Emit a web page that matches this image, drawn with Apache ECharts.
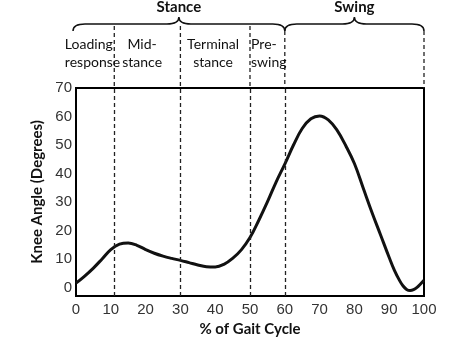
<!DOCTYPE html>
<html><head><meta charset="utf-8">
<script src="https://cdn.jsdelivr.net/npm/echarts@6/dist/echarts.min.js"></script>
<style>html,body{margin:0;padding:0;background:#fff}#c{width:474px;height:345px}</style>
</head><body><div id="c"></div>
<script>
// ---- data ----
const gaitPct = [0,2.5,5,7.5,10,12.5,15,17.5,20,22.5,25,27.5,30,32.5,35,37.5,40,42.5,45,47.5,50,52.5,55,57.5,60,62.5,65,67.5,70,72.5,75,77.5,80,82.5,85,87.5,90,91.5,93,94,95,96,97,98,99,100];
const kneeAngle = [1.5,4,6.8,10,13.3,15.2,15.6,14.8,13.3,12,11,10.2,9.5,8.7,7.9,7.3,7.2,8.1,10.2,13.2,17.5,23.5,30,37,43.3,50,55.8,59.2,60.2,58.8,55.2,49.8,43.5,35,26.5,18.5,10.5,6,2.4,0.5,-0.7,-1.1,-0.8,0,1.2,2.5];
const yTickLabels = [0,10,20,30,40,50,60,70];
const phaseBounds = [11,30,50,60,100];
const phaseNames = ['Loading\nresponse','Mid-\nstance','Terminal\nstance','Pre-\nswing'];
const phaseAnchors = [-3.2,19,39.4,50.3];
const periodNames = ['Stance','Swing'];
const periodStart = [0,60];
const periodEnd = [60,100];

const chart = echarts.init(document.getElementById('c'), null, {renderer:'canvas'});
const L = 76, R = 50;
const labelFont = '14px Lato';
const periodEnds = periodStart.concat(periodEnd);

chart.setOption({
  animation:false,
  backgroundColor:'#fff',
  grid:[
    {left:L, right:R, top:88, bottom:49, show:true, borderColor:'#000', borderWidth:2, backgroundColor:'transparent'},
    {left:L, right:R, top:0, height:88, show:false}
  ],
  xAxis:[
    {type:'value', gridIndex:0, min:0, max:100, interval:10,
     axisLine:{show:true, onZero:false, lineStyle:{color:'#000', width:2}},
     axisTick:{show:false}, splitLine:{show:false},
     axisLabel:{color:'#333', fontSize:15, fontFamily:'Liberation Sans', margin:6},
     name:'% of Gait Cycle', nameLocation:'middle', nameGap:24,
     nameTextStyle:{fontFamily:'Lato', fontWeight:'bold', fontSize:15, color:'#111'}},
    {type:'value', gridIndex:1, min:0, max:100, show:false}
  ],
  yAxis:[
    {type:'value', gridIndex:0, min:-3, max:70,
     axisLine:{show:true, onZero:false, lineStyle:{color:'#000', width:2}},
     axisTick:{show:false}, splitLine:{show:false},
     axisLabel:{color:'#333', fontSize:15, fontFamily:'Liberation Sans', margin:4, customValues:yTickLabels},
     name:'Knee Angle (Degrees)', nameLocation:'middle', nameGap:26, nameRotate:90,
     nameTextStyle:{fontFamily:'Lato', fontWeight:'bold', fontSize:15, color:'#111'}},
    {type:'value', gridIndex:1, min:0, max:88, inverse:true, show:false}
  ],
  series:[
    {type:'line', xAxisIndex:0, yAxisIndex:0, smooth:0.4, showSymbol:false, symbol:'none',
     data:gaitPct.map((x,i)=>[x,kneeAngle[i]]),
     lineStyle:{color:'#111', width:3},
     markLine:{silent:true, symbol:['none','none'], label:{show:false},
       lineStyle:{type:[4,3], color:'#222', width:1.3},
       data:phaseBounds.filter(v=>v<100).map(v=>({xAxis:v}))}
    },
    // dashed lines above the plot
    {type:'custom', xAxisIndex:1, yAxisIndex:1, silent:true,
     data:phaseBounds.map(v=>[v]),
     renderItem:function(params, api){
       const v = api.value(0);
       const top = periodEnds.indexOf(v)>=0 ? 31 : 26;
       const p1 = api.coord([v, top]), p2 = api.coord([v, 88]);
       return {type:'line', shape:{x1:p1[0],y1:p1[1],x2:p2[0],y2:p2[1]},
         style:{stroke:'#222', lineWidth:1.3, lineDash:[4,3]}};
     }},
    // braces with period titles
    {type:'custom', xAxisIndex:1, yAxisIndex:1, silent:true,
     data:periodStart.map((s,i)=>[s, periodEnd[i], i]),
     renderItem:function(params, api){
       const s = api.value(0), e = api.value(1), idx = api.value(2);
       const a = api.coord([s, 31]), b = api.coord([e, 31]);
       const h = api.coord([s, 24])[1], pk = api.coord([s, 17])[1];
       const x0 = s===0 ? a[0]-3 : a[0], x1 = b[0], m = (x0+x1)/2, r = 12, ye = a[1];
       const d = `M${x0} ${ye} Q${x0} ${h} ${x0+r} ${h} L${m-r} ${h} Q${m} ${h} ${m} ${pk} Q${m} ${h} ${m+r} ${h} L${x1-r} ${h} Q${x1} ${h} ${x1} ${ye}`;
       const t = api.coord([(s+e)/2, 7]);
       return {type:'group', children:[
         {type:'path', shape:{pathData:d}, style:{fill:'none', stroke:'#111', lineWidth:1.5}},
         {type:'text', x:m, y:t[1], style:{text:periodNames[idx], fill:'#111', font:'bold 15px Lato', align:'center', verticalAlign:'middle'}}
       ]};
     }},
    // phase labels
    {type:'custom', xAxisIndex:1, yAxisIndex:1, silent:true,
     data:phaseAnchors.map((x,i)=>[x,i]),
     renderItem:function(params, api){
       const i = api.value(1);
       const p = api.coord([api.value(0), 53]);
       const align = (i===0 || i===3) ? 'left' : 'center';
       return {type:'text', x:p[0], y:p[1], style:{text:phaseNames[i], fill:'#111', font:labelFont, align:align, verticalAlign:'middle', lineHeight:18}};
     }}
  ]
});
</script></body></html>
